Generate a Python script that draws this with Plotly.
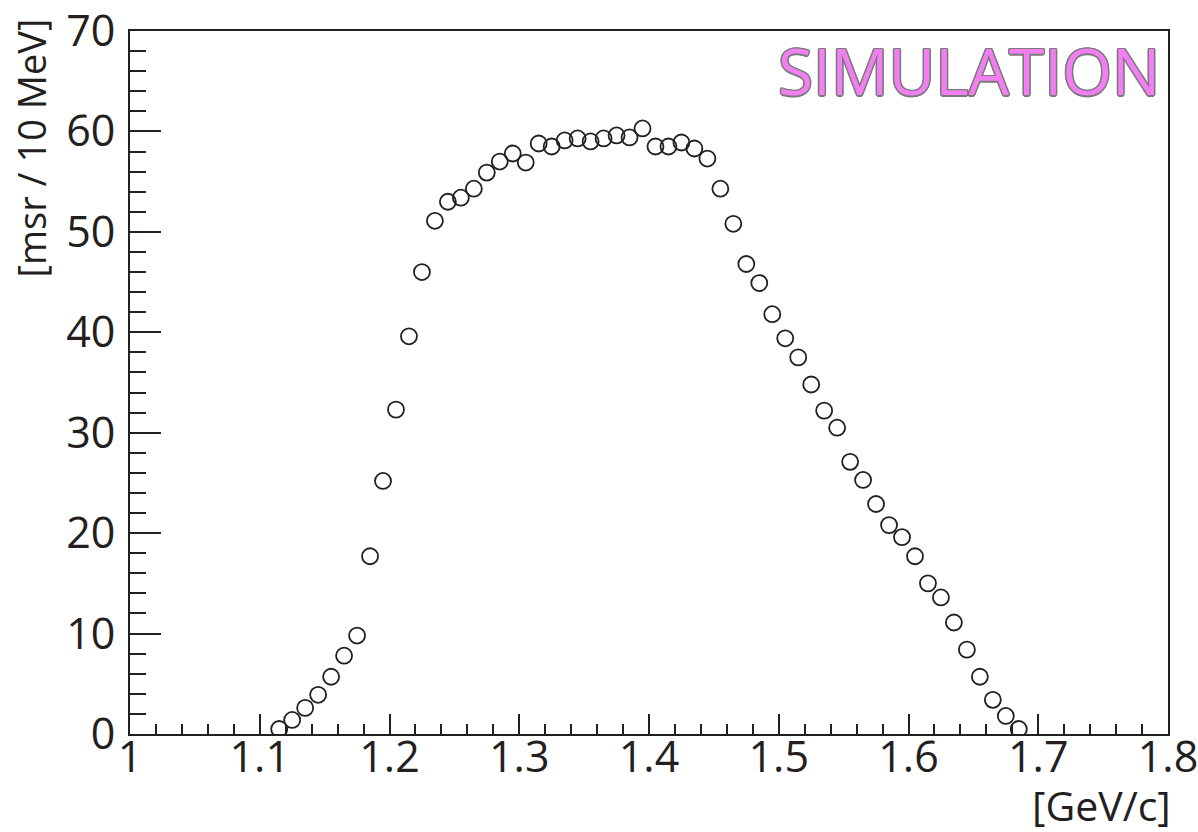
import plotly.graph_objects as go

# Bin centres of the momentum histogram [GeV/c] and acceptance per bin [msr / 10 MeV]
momentum = [1.115 + 0.01 * i for i in range(58)]
acceptance = [
    0.5, 1.4, 2.6, 3.9, 5.7, 7.8, 9.8, 17.7, 25.2, 32.3,
    39.6, 46.0, 51.1, 53.0, 53.4, 54.3, 55.9, 57.0, 57.8, 56.9,
    58.8, 58.5, 59.1, 59.3, 59.0, 59.3, 59.6, 59.4, 60.3, 58.5,
    58.5, 58.9, 58.3, 57.3, 54.3, 50.8, 46.8, 44.9, 41.8, 39.4,
    37.5, 34.8, 32.2, 30.5, 27.1, 25.3, 22.9, 20.8, 19.6, 17.7,
    15.0, 13.6, 11.1, 8.4, 5.7, 3.4, 1.8, 0.5,
]

x_tickvals = [1.0, 1.1, 1.2, 1.3, 1.4, 1.5, 1.6, 1.7, 1.8]
x_ticktext = ["1", "1.1", "1.2", "1.3", "1.4", "1.5", "1.6", "1.7", "1.8"]
y_tickvals = [0, 10, 20, 30, 40, 50, 60, 70]
y_ticktext = ["0", "10", "20", "30", "40", "50", "60", "70"]

x_title = "[GeV/c]"
y_title = "[msr / 10 MeV]"
tag_text = "SIMULATION"

ink = "#231f20"
font_family = "Open Sans, Noto Sans, sans-serif"

fig = go.Figure()
fig.add_trace(go.Scatter(
    x=momentum,
    y=acceptance,
    mode="markers",
    marker=dict(symbol="circle-open", size=16, color=ink, line=dict(width=1.8, color=ink)),
    showlegend=False,
    hoverinfo="x+y",
))

axis_common = dict(
    showgrid=False,
    zeroline=False,
    showline=True,
    linecolor=ink,
    linewidth=2,
    mirror=True,
    ticks="inside",
    tickcolor=ink,
    tickwidth=2,
    tickmode="array",
    ticklabeloverflow="allow",
    automargin=False,
    tickfont=dict(family=font_family, size=43, color=ink),
)

fig.update_xaxes(
    range=[1.0, 1.8],
    tickvals=x_tickvals,
    ticktext=x_ticktext,
    ticklen=20,
    minor=dict(dtick=0.02, tick0=1.0, ticks="inside", ticklen=10, tickcolor=ink, tickwidth=2),
    ticklabelstandoff=-16,
    **axis_common,
)
fig.update_yaxes(
    range=[0, 70],
    tickvals=y_tickvals,
    ticktext=y_ticktext,
    ticklen=31,
    minor=dict(dtick=2, tick0=0, ticks="inside", ticklen=16, tickcolor=ink, tickwidth=2),
    ticklabelstandoff=4,
    **axis_common,
)

fig.add_annotation(
    text=y_title, textangle=-90,
    xref="paper", yref="paper", x=0, y=1,
    xanchor="center", yanchor="top",
    xshift=-100, yshift=14,
    showarrow=False,
    font=dict(family=font_family, size=38, color=ink),
)
fig.add_annotation(
    text=x_title,
    xref="paper", yref="paper", x=1, y=0,
    xanchor="right", yanchor="top",
    xshift=4, yshift=-42,
    borderpad=0,
    showarrow=False,
    font=dict(family=font_family, size=41, color=ink),
)
fig.add_annotation(
    text=tag_text,
    xref="paper", yref="paper", x=1, y=1,
    xanchor="right", yanchor="top",
    xshift=-6, yshift=6,
    showarrow=False,
    font=dict(
        family=font_family, size=64, color="#f27ff2",
        shadow="1.5px 0 0 #7a7a7a, -1.5px 0 0 #7a7a7a, 0 1.5px 0 #7a7a7a, 0 -1.5px 0 #7a7a7a, "
               "1px 1px 0 #7a7a7a, -1px -1px 0 #7a7a7a, 1px -1px 0 #7a7a7a, -1px 1px 0 #7a7a7a",
    ),
)

fig.update_layout(
    width=1198,
    height=832,
    margin=dict(l=130, r=30, t=31, b=98),
    paper_bgcolor="white",
    plot_bgcolor="white",
)

fig.write_html("out.html")
